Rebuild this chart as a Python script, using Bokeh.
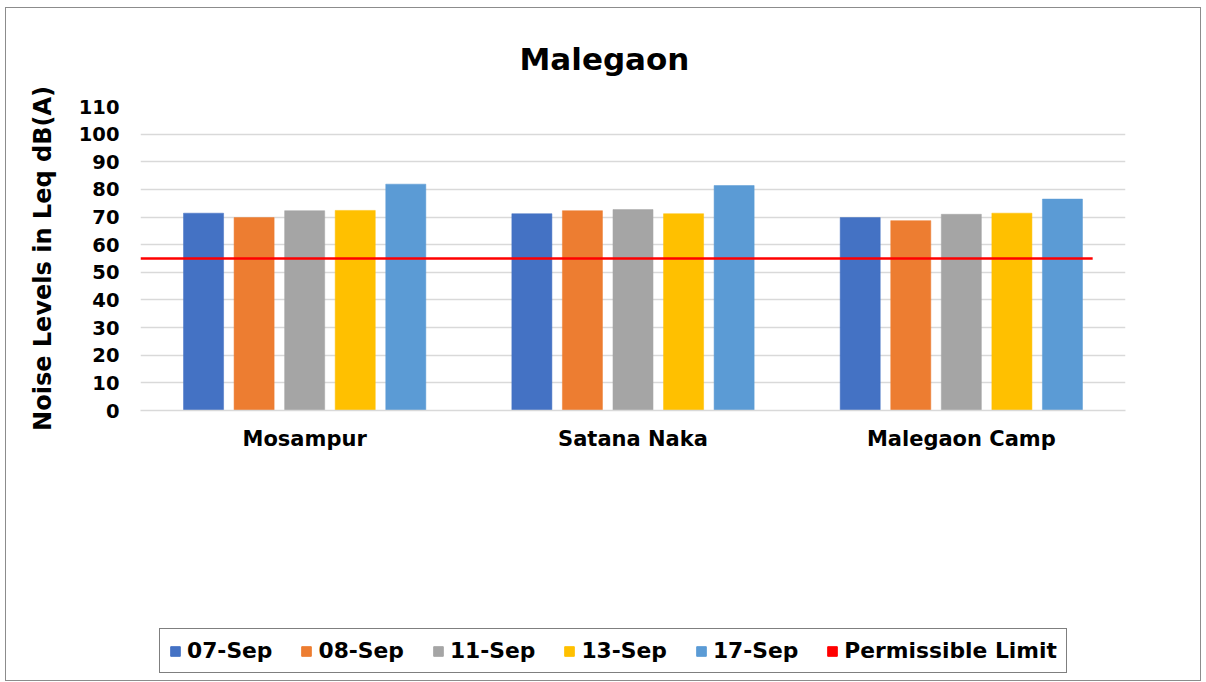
from bokeh.plotting import figure
from bokeh.layouts import column
from bokeh.models import FactorRange, Legend, LegendItem, ColumnDataSource
from bokeh.transform import dodge
from bokeh.embed import file_html
from bokeh.resources import INLINE

locations = ["Mosampur", "Satana Naka", "Malegaon Camp"]
dates = ["07-Sep", "08-Sep", "11-Sep", "13-Sep", "17-Sep"]
sep07 = [71.4, 71.2, 69.8]
sep08 = [69.8, 72.3, 68.7]
sep11 = [72.3, 72.7, 71.0]
sep13 = [72.4, 71.2, 71.4]
sep17 = [81.9, 81.4, 76.5]
permissible_limit = 55
limit_label = "Permissible Limit"
y_ticks = list(range(0, 111, 10))

colors = ["#4472C4", "#ED7D31", "#A5A5A5", "#FFC000", "#5B9BD5"]
FONT = "DejaVu Sans"
NAN = float("nan")

src = ColumnDataSource(dict(loc=locations, s0=sep07, s1=sep08, s2=sep11, s3=sep13, s4=sep17))

p = figure(x_range=FactorRange(*locations), y_range=(0, 110),
           width=1194, height=560, output_backend="svg", toolbar_location=None,
           min_border_left=134, min_border_right=75, min_border_top=97, min_border_bottom=158)

p.title.text = "Malegaon"
p.title.text_font = FONT
p.title.text_font_size = "31px"
p.title.text_font_style = "bold"
p.title.text_color = "black"
p.title.align = "left"
p.title.offset = 379
p.title.standoff = 60

pitch = 0.154
bw = 0.122
for i, c in enumerate(colors):
    p.vbar(x=dodge("loc", (i - 2) * pitch, range=p.x_range), top="s%d" % i, width=bw,
           source=src, fill_color=c, line_color=c, line_alpha=0.5)

p.line(x=[0, len(locations) - 0.1], y=[permissible_limit, permissible_limit],
       line_color="#FF0000", line_width=2.5)

p.xgrid.grid_line_color = None
p.ygrid.grid_line_color = "#d9d9d9"
p.ygrid.grid_line_width = 1.5
p.outline_line_color = None

p.yaxis.ticker = y_ticks
p.yaxis.axis_line_color = None
p.yaxis.major_tick_line_color = None
p.yaxis.minor_tick_line_color = None
p.yaxis.major_label_standoff = 15
p.yaxis.major_label_text_font = FONT
p.yaxis.major_label_text_font_size = "19.5px"
p.yaxis.major_label_text_font_style = "bold"
p.yaxis.major_label_text_color = "black"
p.yaxis.axis_label = "Noise Levels in Leq dB(A)"
p.yaxis.axis_label_text_font = FONT
p.yaxis.axis_label_text_font_size = "24px"
p.yaxis.axis_label_text_font_style = "bold"
p.yaxis.axis_label_text_color = "black"
p.yaxis.axis_label_standoff = 19

p.xaxis.axis_line_color = "#d9d9d9"
p.xaxis.axis_line_width = 1.5
p.xaxis.major_tick_line_color = None
p.xaxis.minor_tick_line_color = None
p.xaxis.major_label_standoff = 10
p.xaxis.major_label_text_font = FONT
p.xaxis.major_label_text_font_size = "21px"
p.xaxis.major_label_text_font_style = "bold"
p.xaxis.major_label_text_color = "black"

# legend strip
lg = figure(x_range=(0, 1), y_range=(0, 1), width=1194, height=112,
            output_backend="svg", toolbar_location=None, min_border=0,
            x_axis_type=None, y_axis_type=None)
lg.outline_line_color = None
lg.xgrid.grid_line_color = None
lg.ygrid.grid_line_color = None
keys = []
for c in colors + ["#FF0000"]:
    keys.append(lg.vbar(x=[NAN], top=[NAN], width=0.1, fill_color=c, line_color=c))
items = [LegendItem(label=lab, renderers=[r]) for lab, r in zip(dates + [limit_label], keys)]
legend = Legend(items=items, orientation="horizontal", location=(19, 7),
                border_line_color="black", border_line_width=1.5,
                label_text_font=FONT, label_text_font_size="21.8px", label_text_font_style="bold",
                label_text_color="black",
                glyph_width=12, glyph_height=12, label_standoff=6, spacing=28, padding=9,
                label_height=20, margin=0)
lg.add_layout(legend, "center")

layout = column(p, lg, spacing=0)
layout.styles = {"border": "1px solid #8c8c8c", "margin-left": "5px", "margin-top": "7px"}

open("out.html", "w").write(file_html(layout, INLINE))
